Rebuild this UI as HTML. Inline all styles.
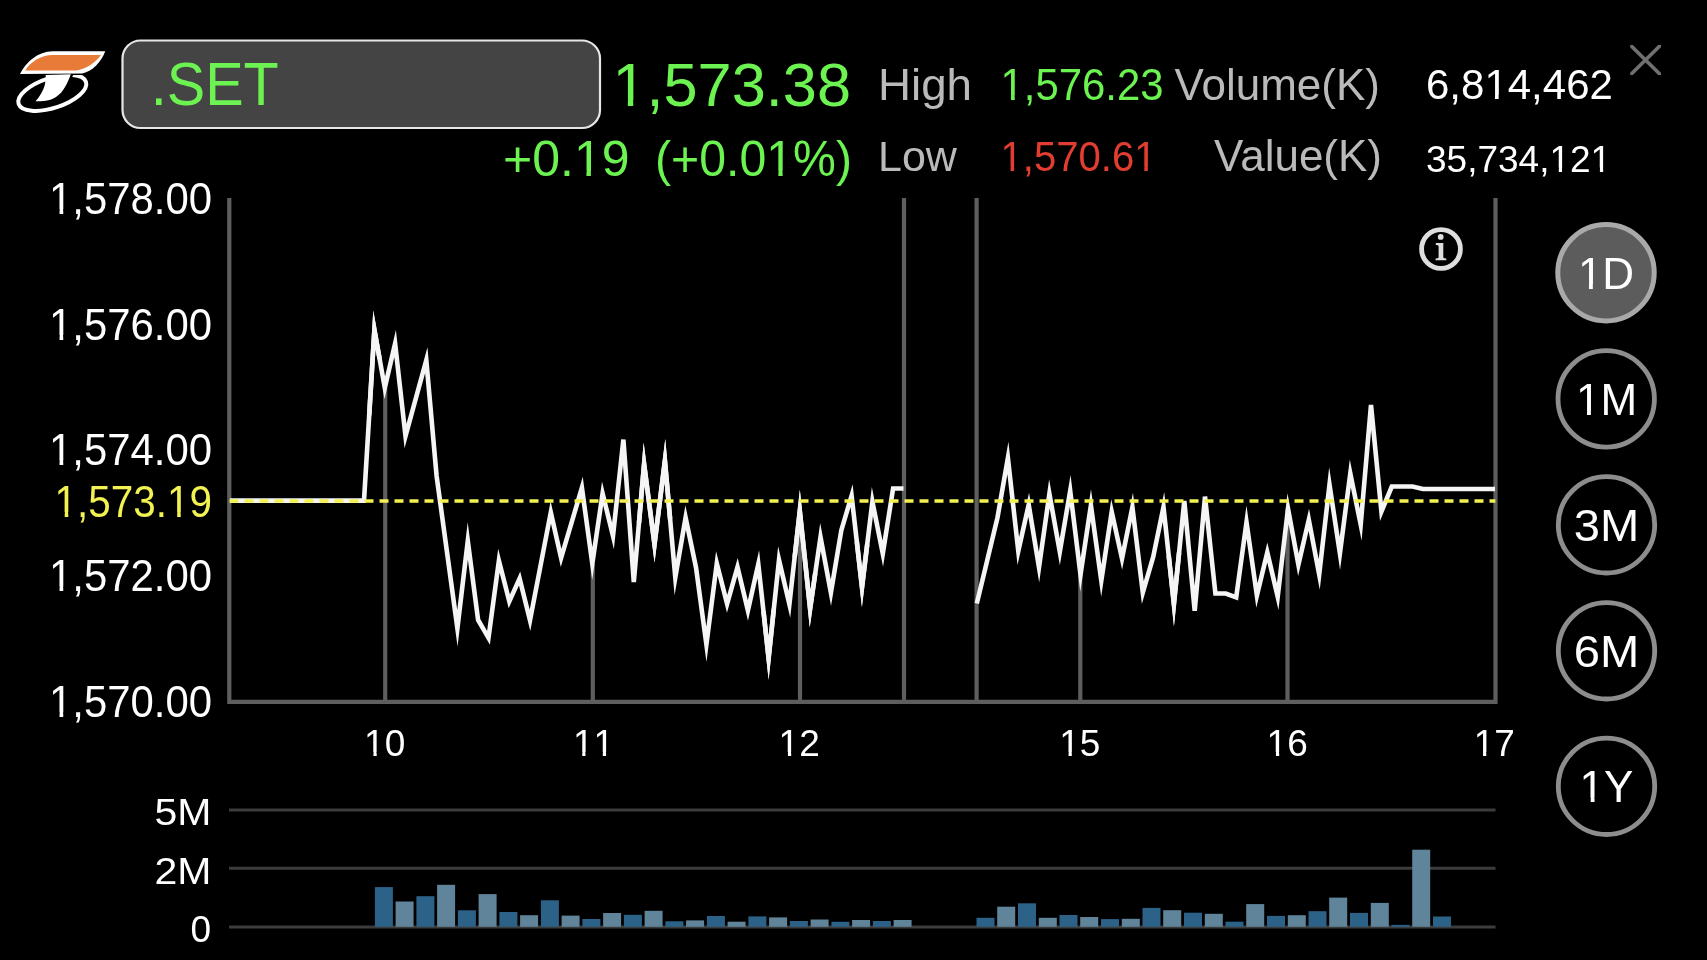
<!DOCTYPE html>
<html><head><meta charset="utf-8"><style>
html,body{margin:0;padding:0;background:#000;width:1707px;height:960px;overflow:hidden}
svg{display:block;will-change:transform}
text{font-family:"Liberation Sans",sans-serif}
</style></head><body>
<svg width="1707" height="960" viewBox="0 0 1707 960">
<rect width="1707" height="960" fill="#000"/>
<!-- logo -->
<g>
<ellipse cx="52.3" cy="92.9" rx="35.4" ry="15" transform="rotate(-18 52.3 92.9)" fill="none" stroke="#fff" stroke-width="4"/>
<path id="bar" d="M105.3,51.3 L52.6,51.3 C38,51.5 26,62 20,74 L82.2,73.4 C93,71 101,62 105.3,51.3 Z" fill="#000" stroke="#000" stroke-width="3"/>
<path d="M66,74.5 L72,74.3 C70,80 68,84 66,88" fill="none" stroke="#000" stroke-width="2.5"/>
<path d="M105.3,51.3 L52.6,51.3 C38,51.5 26,62 20,74 L82.2,73.4 C93,71 101,62 105.3,51.3 Z" fill="#fff"/>
<path d="M100.9,54.9 L52.6,54.9 C41,54.9 30,62 25.2,70.5 L76.2,70.5 C86,69 96,62 100.9,54.9 Z" fill="#e97b38"/>
<path d="M45.7,75 L70.8,74.3 C68,82 64,92 56,97 C51,100.5 45,101.5 35.5,101.3 C40,96 43,91 44.5,86 C45.5,82 46,78 45.7,75 Z" fill="#fff"/>
</g>
<!-- search box -->
<rect x="122.5" y="40.5" width="477.5" height="87.5" rx="18" ry="18" fill="#444" stroke="#e6e6e6" stroke-width="2.2"/>
<text x="150.8" y="105.1" font-size="60.5" fill="#6cf352" textLength="128" lengthAdjust="spacingAndGlyphs">.SET</text>
<!-- price -->
<text x="851" y="105.8" font-size="62" fill="#6cf352" text-anchor="end" textLength="238.6" lengthAdjust="spacingAndGlyphs">1,573.38</text>
<text x="629.5" y="175.8" font-size="50" fill="#6cf352" text-anchor="end">+0.19</text>
<text x="852" y="175.8" font-size="50" fill="#6cf352" text-anchor="end" textLength="197" lengthAdjust="spacingAndGlyphs">(+0.01%)</text>
<text x="878" y="100.1" font-size="44.5" fill="#bababa" textLength="94" lengthAdjust="spacingAndGlyphs">High</text>
<text x="878" y="171.3" font-size="43" fill="#bababa">Low</text>
<text x="1000.5" y="99.7" font-size="44.5" fill="#6cf352" textLength="163" lengthAdjust="spacingAndGlyphs">1,576.23</text>
<text x="1000.5" y="171.3" font-size="42.5" fill="#e33d32" textLength="156" lengthAdjust="spacingAndGlyphs">1,570.61</text>
<text x="1380" y="99.8" font-size="44" fill="#bababa" text-anchor="end">Volume(K)</text>
<text x="1382" y="171" font-size="44" fill="#bababa" text-anchor="end">Value(K)</text>
<text x="1426" y="99.4" font-size="42" fill="#ffffff">6,814,462</text>
<text x="1426" y="171.5" font-size="37" fill="#ffffff">35,734,121</text>
<!-- close X -->
<clipPath id="xc"><rect x="1630.2" y="45" width="30.8" height="30"/></clipPath>
<path d="M1626,40.8 L1665,79.2 M1665,40.8 L1626,79.2" stroke="#707070" stroke-width="3.6" clip-path="url(#xc)"/>
<!-- y labels -->
<g font-size="43.5" fill="#ffffff" text-anchor="end">
<text x="212" y="213.8" textLength="163" lengthAdjust="spacingAndGlyphs">1,578.00</text>
<text x="212" y="339.6" textLength="163" lengthAdjust="spacingAndGlyphs">1,576.00</text>
<text x="212" y="465.3" textLength="163" lengthAdjust="spacingAndGlyphs">1,574.00</text>
<text x="212" y="591.2" textLength="163" lengthAdjust="spacingAndGlyphs">1,572.00</text>
<text x="212" y="716.9" textLength="163" lengthAdjust="spacingAndGlyphs">1,570.00</text>
</g>
<text x="212" y="516.5" font-size="43.5" fill="#f2f252" text-anchor="end" textLength="157.5" lengthAdjust="spacingAndGlyphs">1,573.19</text>
<!-- grid -->
<g stroke="#5e5e5e" stroke-width="4.2" fill="none">
<path d="M229.3,198 L229.3,701.8 L1495.5,701.8 L1495.5,198"/>
<line x1="904" y1="198" x2="904" y2="701.8"/>
<line x1="976.6" y1="198" x2="976.6" y2="701.8"/>
</g>
<line x1="385.2" y1="701.8" x2="385.2" y2="387.8" stroke="#5e5e5e" stroke-width="4.2"/><line x1="592.8" y1="701.8" x2="592.8" y2="563.6" stroke="#5e5e5e" stroke-width="4.2"/><line x1="800" y1="701.8" x2="800" y2="511.1" stroke="#5e5e5e" stroke-width="4.2"/><line x1="1080.3" y1="701.8" x2="1080.3" y2="574.7" stroke="#5e5e5e" stroke-width="4.2"/><line x1="1287.5" y1="701.8" x2="1287.5" y2="508.6" stroke="#5e5e5e" stroke-width="4.2"/>
<!-- price line -->
<g fill="none" stroke="#f5f5f5" stroke-width="4.6" stroke-linejoin="miter" stroke-miterlimit="10">
<path d="M230.0,500.6 L364.0,500.6 L374.4,329.9 L384.8,387.8 L395.1,343.6 L405.5,436.0 L415.9,398.1 L426.3,360.2 L436.6,476.0 L447.0,552.1 L457.4,628.3 L467.8,540.9 L478.1,620.0 L488.5,637.9 L498.9,560.8 L509.3,601.4 L519.6,578.5 L530.0,620.4 L540.4,566.4 L550.8,512.4 L561.1,558.0 L571.5,522.9 L581.9,487.7 L592.3,563.6 L602.6,493.5 L613.0,535.9 L623.4,439.6 L633.8,582.0 L644.1,464.0 L654.5,544.4 L664.9,460.6 L675.3,577.4 L685.6,517.6 L696.0,567.5 L706.4,644.4 L716.8,563.4 L727.1,603.8 L737.5,567.0 L747.9,610.5 L758.3,564.2 L768.6,658.2 L779.0,560.0 L789.4,604.2 L799.8,511.1 L810.1,608.8 L820.5,537.0 L830.9,592.7 L841.3,530.4 L851.6,495.7 L862.0,587.3 L872.4,501.6 L882.8,553.7 L893.1,488.5 L903.5,488.5"/>
<path d="M976.8,603.5 L987.2,560.5 L997.5,517.5 L1007.9,457.9 L1018.3,551.1 L1028.7,504.7 L1039.0,567.2 L1049.4,493.8 L1059.8,551.9 L1070.2,490.8 L1080.5,574.7 L1090.9,505.3 L1101.3,580.7 L1111.7,511.8 L1122.0,558.7 L1132.4,507.1 L1142.8,592.6 L1153.2,557.0 L1163.5,507.0 L1173.9,604.1 L1184.3,501.0 L1194.7,610.9 L1205.0,496.6 L1215.4,593.5 L1225.8,593.5 L1236.2,597.4 L1246.5,522.2 L1256.9,595.6 L1267.3,552.4 L1277.7,596.6 L1288.0,508.6 L1298.4,564.7 L1308.8,519.8 L1319.2,574.4 L1329.5,484.6 L1339.9,553.4 L1350.3,473.4 L1360.7,524.6 L1371.0,405.0 L1381.4,511.6 L1391.8,486.5 L1402.2,486.5 L1412.5,486.5 L1422.9,489.0 L1495.0,489.0"/>
</g>
<path d="M369.2,415.2 L374.4,329.9 L379.6,358.9 M639.0,523.0 L644.1,464.0 L649.3,504.2 M649.3,504.2 L654.5,544.4 L659.7,502.5 M659.7,502.5 L664.9,460.6 L670.1,519.0 M763.5,611.2 L768.6,658.2 L773.8,609.1 M794.6,557.7 L799.8,511.1 L805.0,560.0 M805.0,560.0 L810.1,608.8 L815.3,572.9 M856.8,541.5 L862.0,587.3 L867.2,544.5 M1168.7,555.5 L1173.9,604.1 L1179.1,552.5" fill="none" stroke="#f5f5f5" stroke-width="4.6" stroke-linejoin="miter" stroke-miterlimit="60"/>
<line x1="229.5" y1="501" x2="1495.4" y2="501" stroke="#f2f252" stroke-width="3.5" stroke-dasharray="9 6"/>
<!-- info icon -->
<circle cx="1441" cy="249" r="19.4" fill="none" stroke="#dedede" stroke-width="4.8"/>
<circle cx="1440.7" cy="236.9" r="2.9" fill="#dedede"/>
<path d="M1435.8,243 L1443.3,243 L1443.3,257.4 Q1443.6,258.2 1446.3,258.4 L1446.3,260.2 L1435.6,260.2 L1435.6,258.4 Q1438.4,258.2 1438.6,257.4 L1438.6,246 Q1438.4,245 1435.8,244.9 Z" fill="#dedede"/>
<!-- x labels -->
<g font-size="37" fill="#ffffff" text-anchor="middle">
<text x="384.7" y="756">10</text>
<text x="593.5" y="756" style="font-kerning:none">11</text>
<text x="799.2" y="756">12</text>
<text x="1079.8" y="756">15</text>
<text x="1287.2" y="756">16</text>
<text x="1494.3" y="756">17</text>
</g>
<!-- volume -->
<g stroke="#3c3c3c" stroke-width="3">
<line x1="229" y1="810" x2="1495.5" y2="810"/>
<line x1="229" y1="868.2" x2="1495.5" y2="868.2"/>
<line x1="229" y1="927" x2="1495.5" y2="927"/>
</g>
<g><rect x="374.9" y="887.1" width="18" height="39.7" fill="#2c6188"/><rect x="395.6" y="901.5" width="18" height="25.3" fill="#60849a"/><rect x="416.4" y="896.2" width="18" height="30.6" fill="#2c6188"/><rect x="437.1" y="884.8" width="18" height="42.0" fill="#60849a"/><rect x="457.9" y="910.3" width="18" height="16.5" fill="#2c6188"/><rect x="478.6" y="894.1" width="18" height="32.7" fill="#60849a"/><rect x="499.4" y="912.0" width="18" height="14.8" fill="#2c6188"/><rect x="520.1" y="915.2" width="18" height="11.6" fill="#60849a"/><rect x="540.9" y="900.3" width="18" height="26.5" fill="#2c6188"/><rect x="561.6" y="915.6" width="18" height="11.2" fill="#60849a"/><rect x="582.4" y="919.0" width="18" height="7.8" fill="#2c6188"/><rect x="603.1" y="913.0" width="18" height="13.8" fill="#60849a"/><rect x="623.9" y="914.8" width="18" height="12.0" fill="#2c6188"/><rect x="644.6" y="910.8" width="18" height="16.0" fill="#60849a"/><rect x="665.4" y="921.3" width="18" height="5.5" fill="#2c6188"/><rect x="686.1" y="920.4" width="18" height="6.4" fill="#60849a"/><rect x="706.9" y="916.0" width="18" height="10.8" fill="#2c6188"/><rect x="727.6" y="921.7" width="18" height="5.1" fill="#60849a"/><rect x="748.4" y="916.4" width="18" height="10.4" fill="#2c6188"/><rect x="769.1" y="917.4" width="18" height="9.4" fill="#60849a"/><rect x="789.9" y="921.0" width="18" height="5.8" fill="#2c6188"/><rect x="810.6" y="919.5" width="18" height="7.3" fill="#60849a"/><rect x="831.4" y="921.8" width="18" height="5.0" fill="#2c6188"/><rect x="852.1" y="920.0" width="18" height="6.8" fill="#60849a"/><rect x="872.9" y="921.0" width="18" height="5.8" fill="#2c6188"/><rect x="893.6" y="920.0" width="18" height="6.8" fill="#60849a"/><rect x="976.5" y="917.8" width="18" height="9.0" fill="#2c6188"/><rect x="997.2" y="906.7" width="18" height="20.1" fill="#60849a"/><rect x="1018.0" y="903.3" width="18" height="23.5" fill="#2c6188"/><rect x="1038.8" y="917.8" width="18" height="9.0" fill="#60849a"/><rect x="1059.5" y="915.0" width="18" height="11.8" fill="#2c6188"/><rect x="1080.2" y="917.0" width="18" height="9.8" fill="#60849a"/><rect x="1101.0" y="919.1" width="18" height="7.7" fill="#2c6188"/><rect x="1121.8" y="918.8" width="18" height="8.0" fill="#60849a"/><rect x="1142.5" y="907.9" width="18" height="18.9" fill="#2c6188"/><rect x="1163.2" y="910.2" width="18" height="16.6" fill="#60849a"/><rect x="1184.0" y="912.7" width="18" height="14.1" fill="#2c6188"/><rect x="1204.8" y="913.8" width="18" height="13.0" fill="#60849a"/><rect x="1225.5" y="921.7" width="18" height="5.1" fill="#2c6188"/><rect x="1246.2" y="904.1" width="18" height="22.7" fill="#60849a"/><rect x="1267.0" y="915.9" width="18" height="10.9" fill="#2c6188"/><rect x="1287.8" y="915.2" width="18" height="11.6" fill="#60849a"/><rect x="1308.5" y="911.2" width="18" height="15.6" fill="#2c6188"/><rect x="1329.2" y="897.6" width="18" height="29.2" fill="#60849a"/><rect x="1350.0" y="912.9" width="18" height="13.9" fill="#2c6188"/><rect x="1370.8" y="902.9" width="18" height="23.9" fill="#60849a"/><rect x="1391.5" y="924.9" width="18" height="1.9" fill="#2c6188"/><rect x="1412.2" y="849.7" width="18" height="77.1" fill="#60849a"/><rect x="1433.0" y="916.5" width="18" height="10.3" fill="#2c6188"/></g>
<g font-size="37" fill="#ffffff" text-anchor="end">
<text x="211.5" y="825" textLength="57" lengthAdjust="spacingAndGlyphs">5M</text>
<text x="211.5" y="883.5" textLength="57" lengthAdjust="spacingAndGlyphs">2M</text>
<text x="211" y="941.7">0</text>
</g>
<!-- period buttons -->
<circle cx="1606" cy="272.7" r="48.2" fill="#5c5c5c" stroke="#a9a9a9" stroke-width="5"/>
<g fill="none" stroke="#8d8d8d" stroke-width="4.8">
<circle cx="1606.2" cy="398.9" r="48.2"/>
<circle cx="1606.5" cy="524.8" r="48.2"/>
<circle cx="1606.5" cy="650.8" r="48.2"/>
<circle cx="1606.5" cy="786.3" r="48.2"/>
</g>
<g font-size="44" fill="#ffffff" text-anchor="middle">
<text x="1606" y="288.7">1D</text>
<text x="1606.5" y="414.9">1M</text>
<text x="1606.5" y="541.3" textLength="65.5" lengthAdjust="spacingAndGlyphs">3M</text>
<text x="1606.5" y="667.3" textLength="65.5" lengthAdjust="spacingAndGlyphs">6M</text>
<text x="1606.5" y="802.3">1Y</text>
</g>
<g><rect x="616.07" y="99.87" width="11.75" height="7.23" fill="#000"/><rect x="633.23" y="99.87" width="11.27" height="7.23" fill="#000"/><rect x="576.69" y="170.76" width="9.77" height="6.34" fill="#000"/><rect x="590.88" y="170.76" width="9.38" height="6.34" fill="#000"/><rect x="768.91" y="170.76" width="9.46" height="6.34" fill="#000"/><rect x="782.63" y="170.76" width="9.08" height="6.34" fill="#000"/><rect x="1002.69" y="95.08" width="8.34" height="5.92" fill="#000"/><rect x="1014.73" y="95.08" width="8.01" height="5.92" fill="#000"/><rect x="1002.55" y="166.82" width="8.03" height="5.78" fill="#000"/><rect x="1014.12" y="166.82" width="7.71" height="5.78" fill="#000"/><rect x="1136.26" y="166.82" width="8.03" height="5.78" fill="#000"/><rect x="1147.83" y="166.82" width="7.71" height="5.78" fill="#000"/><rect x="1486.58" y="94.96" width="8.37" height="5.74" fill="#000"/><rect x="1498.66" y="94.96" width="8.04" height="5.74" fill="#000"/><rect x="1551.26" y="167.44" width="7.49" height="5.36" fill="#000"/><rect x="1562.02" y="167.44" width="7.20" height="5.36" fill="#000"/><rect x="1592.41" y="167.44" width="7.49" height="5.36" fill="#000"/><rect x="1603.18" y="167.44" width="7.20" height="5.36" fill="#000"/><rect x="51.19" y="209.25" width="8.34" height="5.85" fill="#000"/><rect x="63.24" y="209.25" width="8.02" height="5.85" fill="#000"/><rect x="51.19" y="335.05" width="8.34" height="5.85" fill="#000"/><rect x="63.24" y="335.05" width="8.02" height="5.85" fill="#000"/><rect x="51.19" y="460.75" width="8.34" height="5.85" fill="#000"/><rect x="63.24" y="460.75" width="8.02" height="5.85" fill="#000"/><rect x="51.19" y="586.65" width="8.34" height="5.85" fill="#000"/><rect x="63.24" y="586.65" width="8.02" height="5.85" fill="#000"/><rect x="51.19" y="712.35" width="8.34" height="5.85" fill="#000"/><rect x="63.24" y="712.35" width="8.02" height="5.85" fill="#000"/><rect x="56.58" y="511.95" width="8.10" height="5.85" fill="#000"/><rect x="68.26" y="511.95" width="7.78" height="5.85" fill="#000"/><rect x="169.07" y="511.95" width="8.10" height="5.85" fill="#000"/><rect x="180.75" y="511.95" width="7.78" height="5.85" fill="#000"/><rect x="365.94" y="751.94" width="7.49" height="5.36" fill="#000"/><rect x="376.70" y="751.94" width="7.20" height="5.36" fill="#000"/><rect x="574.74" y="751.94" width="7.49" height="5.36" fill="#000"/><rect x="585.50" y="751.94" width="7.20" height="5.36" fill="#000"/><rect x="595.30" y="751.94" width="7.49" height="5.36" fill="#000"/><rect x="606.07" y="751.94" width="7.20" height="5.36" fill="#000"/><rect x="780.44" y="751.94" width="7.49" height="5.36" fill="#000"/><rect x="791.20" y="751.94" width="7.20" height="5.36" fill="#000"/><rect x="1061.04" y="751.94" width="7.49" height="5.36" fill="#000"/><rect x="1071.80" y="751.94" width="7.20" height="5.36" fill="#000"/><rect x="1268.44" y="751.94" width="7.49" height="5.36" fill="#000"/><rect x="1279.20" y="751.94" width="7.20" height="5.36" fill="#000"/><rect x="1475.54" y="751.94" width="7.49" height="5.36" fill="#000"/><rect x="1486.30" y="751.94" width="7.20" height="5.36" fill="#000"/><rect x="1580.23" y="284.11" width="8.72" height="5.89" fill="#5c5c5c"/><rect x="1592.84" y="284.11" width="8.37" height="5.89" fill="#5c5c5c"/><rect x="1578.29" y="410.31" width="8.72" height="5.89" fill="#000"/><rect x="1590.90" y="410.31" width="8.37" height="5.89" fill="#000"/><rect x="1581.94" y="797.71" width="8.72" height="5.89" fill="#000"/><rect x="1594.55" y="797.71" width="8.37" height="5.89" fill="#000"/></g>
</svg>
</body></html>
